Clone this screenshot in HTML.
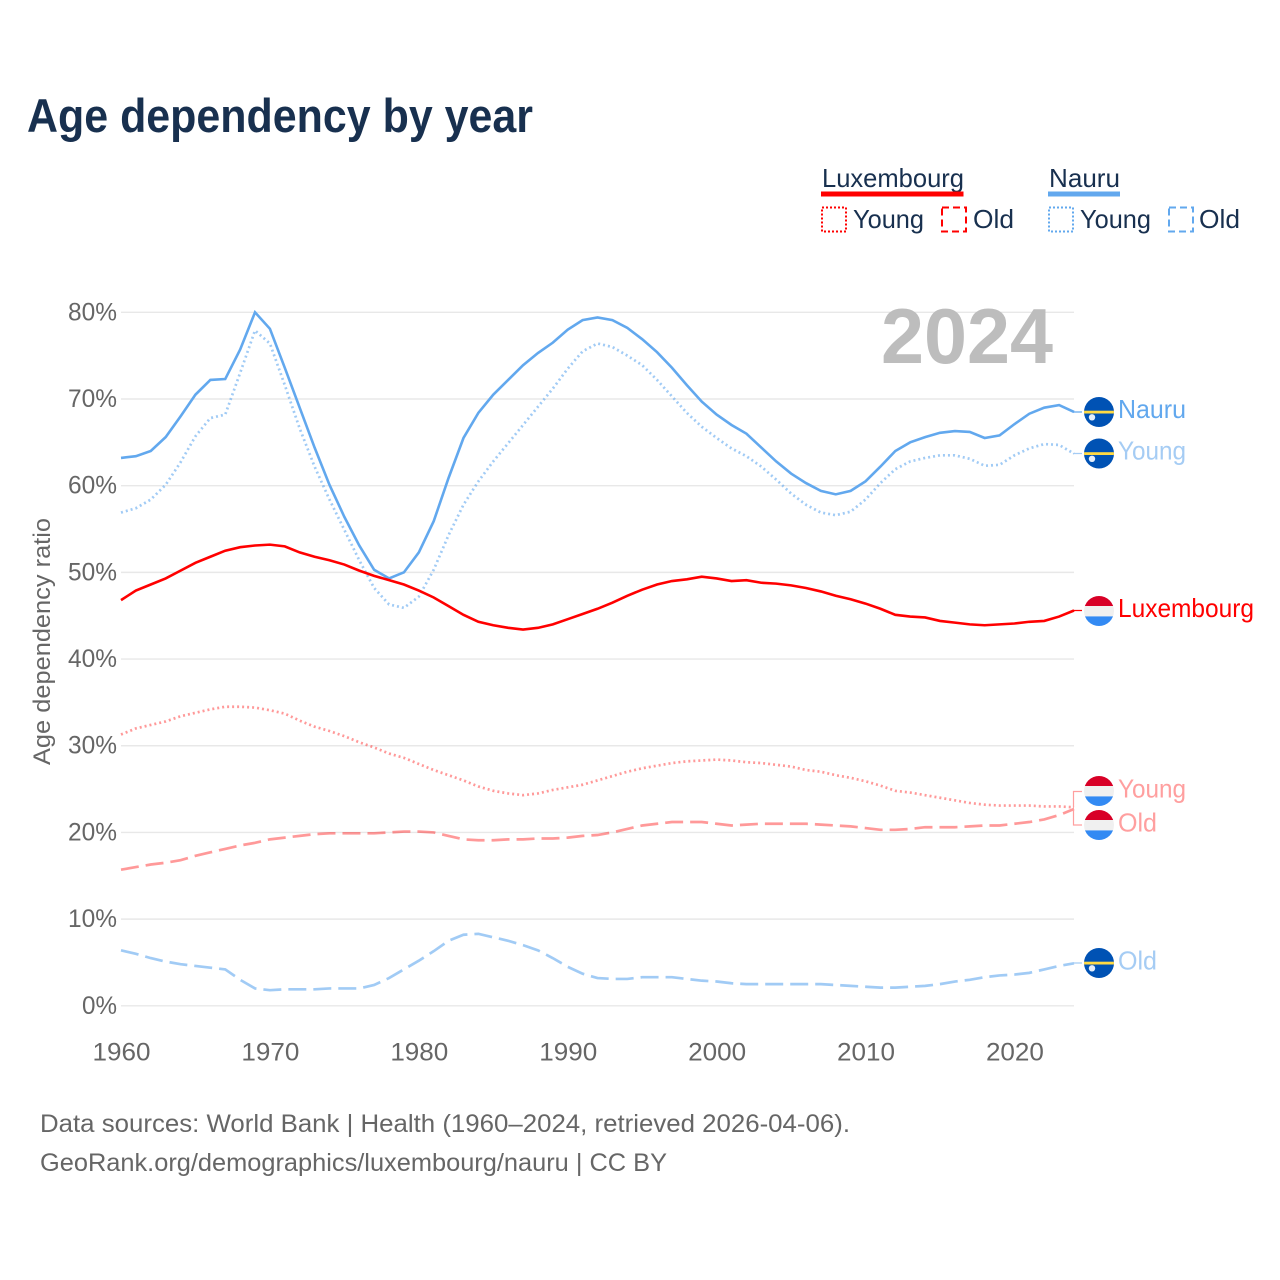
<!DOCTYPE html>
<html lang="en">
<head>
<meta charset="utf-8">
<title>Age dependency by year</title>
<style>
html,body{margin:0;padding:0;background:#fff;}
svg{display:block;font-family:"Liberation Sans",sans-serif;}
</style>
</head>
<body>
<svg id="chart" xmlns="http://www.w3.org/2000/svg" width="1280" height="1280" viewBox="0 0 1280 1280">
  <defs>
    <clipPath id="flag-clip"><circle cx="0" cy="0" r="15"/></clipPath>
    <g id="flag-lux" clip-path="url(#flag-clip)">
      <rect x="-16" y="-16" width="32" height="11" fill="#d80027"/>
      <rect x="-16" y="-5" width="32" height="10.4" fill="#f0f0f0"/>
      <rect x="-16" y="5.4" width="32" height="11" fill="#338af3"/>
    </g>
    <g id="flag-nauru" clip-path="url(#flag-clip)">
      <rect x="-16" y="-16" width="32" height="32" fill="#0052b4"/>
      <rect x="-16" y="-1.3" width="32" height="2.8" fill="#ffda44"/>
      <circle cx="-7" cy="5.3" r="3.2" fill="#e4eefa"/>
    </g>
  </defs>

  <rect x="0" y="0" width="1280" height="1280" fill="#ffffff"/>

  <text x="27" y="132" font-size="47" font-weight="700" fill="#18304f" textLength="506" lengthAdjust="spacingAndGlyphs">Age dependency by year</text>

  <g font-size="26" fill="#18304f">
    <g>
      <text x="822" y="187" textLength="142" lengthAdjust="spacingAndGlyphs">Luxembourg</text>
      <rect x="821" y="191.5" width="142.5" height="5" fill="#ff0000"/>
      <rect x="822" y="207.5" width="24" height="24" fill="none" stroke="#ff0000" stroke-width="2" stroke-dasharray="2 2"/>
      <text x="853" y="228" textLength="71" lengthAdjust="spacingAndGlyphs">Young</text>
      <rect x="942" y="207.5" width="24" height="24" fill="none" stroke="#ff0000" stroke-width="2" stroke-dasharray="7 4"/>
      <text x="973" y="228" textLength="41" lengthAdjust="spacingAndGlyphs">Old</text>
    </g>
    <g>
      <text x="1049" y="187" textLength="71" lengthAdjust="spacingAndGlyphs">Nauru</text>
      <rect x="1048" y="191.5" width="72" height="5" fill="#62a8ee"/>
      <rect x="1049" y="207.5" width="24" height="24" fill="none" stroke="#62a8ee" stroke-width="2" stroke-dasharray="2 2"/>
      <text x="1080" y="228" textLength="71" lengthAdjust="spacingAndGlyphs">Young</text>
      <rect x="1169" y="207.5" width="24" height="24" fill="none" stroke="#62a8ee" stroke-width="2" stroke-dasharray="7 4"/>
      <text x="1199" y="228" textLength="41" lengthAdjust="spacingAndGlyphs">Old</text>
    </g>
  </g>

  <g id="grid"></g>
  <g id="y-axis"></g>
  <g id="x-axis"></g>

  <text transform="translate(50,765) rotate(-90)" x="0" y="0" font-size="24.5" fill="#666666" textLength="247" lengthAdjust="spacingAndGlyphs">Age dependency ratio</text>

  <text x="881" y="363" font-size="78" font-weight="700" fill="#bdbdbd" textLength="172" lengthAdjust="spacingAndGlyphs">2024</text>

  <g id="series"></g>
  <g id="leaders"></g>

  <g font-size="26">
    <use href="#flag-nauru" x="1099" y="412"/>
    <text x="1118" y="418" fill="#62a8ee" textLength="68" lengthAdjust="spacingAndGlyphs">Nauru</text>
    <use href="#flag-nauru" x="1099" y="453.5"/>
    <text x="1118" y="459.5" fill="#a5ccf4" textLength="68" lengthAdjust="spacingAndGlyphs">Young</text>
    <use href="#flag-lux" x="1099" y="611"/>
    <text x="1118" y="617" fill="#ff0000" textLength="136" lengthAdjust="spacingAndGlyphs">Luxembourg</text>
    <use href="#flag-lux" x="1099" y="791"/>
    <text x="1118" y="797.5" fill="#ff9f9f" textLength="68" lengthAdjust="spacingAndGlyphs">Young</text>
    <use href="#flag-lux" x="1099" y="825"/>
    <text x="1118" y="831.5" fill="#ff9f9f" textLength="39" lengthAdjust="spacingAndGlyphs">Old</text>
    <use href="#flag-nauru" x="1099" y="963"/>
    <text x="1118" y="969.5" fill="#a5ccf4" textLength="39" lengthAdjust="spacingAndGlyphs">Old</text>
  </g>

  <g font-size="25" fill="#666666">
    <text x="40" y="1132" textLength="810" lengthAdjust="spacingAndGlyphs">Data sources: World Bank | Health (1960–2024, retrieved 2026-04-06).</text>
    <text x="40" y="1171" textLength="627" lengthAdjust="spacingAndGlyphs">GeoRank.org/demographics/luxembourg/nauru | CC BY</text>
  </g>
</svg>

<script>
const startYear = 1960;
const endYear = 2024;
const yTicks = [0, 10, 20, 30, 40, 50, 60, 70, 80];
const xTicks = [1960, 1970, 1980, 1990, 2000, 2010, 2020];

const nauruTotal = [63.2,63.4,64.0,65.6,68.0,70.5,72.2,72.3,75.7,80.0,78.1,73.6,69.0,64.4,60.1,56.4,53.1,50.3,49.3,50.0,52.3,55.9,60.9,65.5,68.4,70.5,72.2,73.9,75.3,76.5,78.0,79.1,79.4,79.1,78.2,76.9,75.4,73.6,71.6,69.7,68.2,67.0,66.0,64.4,62.8,61.4,60.3,59.4,59.0,59.4,60.5,62.2,64.0,65.0,65.6,66.1,66.3,66.2,65.5,65.8,67.1,68.3,69.0,69.3,68.5];
const nauruYoung = [56.9,57.4,58.4,60.1,62.7,65.7,67.8,68.2,73.0,77.9,76.4,71.6,66.6,62.2,58.4,54.9,51.4,48.2,46.3,45.9,47.2,50.3,54.3,57.8,60.5,62.8,64.9,67.0,69.1,71.2,73.5,75.5,76.4,76.0,75.0,73.9,72.2,70.3,68.4,66.8,65.5,64.3,63.4,62.2,60.7,59.1,57.8,56.9,56.6,57.0,58.4,60.3,61.9,62.8,63.2,63.5,63.5,63.1,62.3,62.4,63.5,64.3,64.8,64.7,63.7];
const nauruOld = [6.4,6.0,5.5,5.1,4.8,4.6,4.4,4.2,3.0,2.0,1.8,1.9,1.9,1.9,2.0,2.0,2.0,2.4,3.2,4.2,5.2,6.3,7.5,8.2,8.3,7.9,7.5,7.0,6.4,5.5,4.5,3.7,3.2,3.1,3.1,3.3,3.3,3.3,3.1,2.9,2.8,2.6,2.5,2.5,2.5,2.5,2.5,2.5,2.4,2.3,2.2,2.1,2.1,2.2,2.3,2.5,2.8,3.0,3.3,3.5,3.6,3.8,4.2,4.6,4.9];
const luxTotal = [46.8,47.9,48.6,49.3,50.2,51.1,51.8,52.5,52.9,53.1,53.2,53.0,52.3,51.8,51.4,50.9,50.2,49.6,49.1,48.6,47.9,47.1,46.1,45.1,44.3,43.9,43.6,43.4,43.6,44.0,44.6,45.2,45.8,46.5,47.3,48.0,48.6,49.0,49.2,49.5,49.3,49.0,49.1,48.8,48.7,48.5,48.2,47.8,47.3,46.9,46.4,45.8,45.1,44.9,44.8,44.4,44.2,44.0,43.9,44.0,44.1,44.3,44.4,44.9,45.6];
const luxYoung = [31.3,32.0,32.4,32.8,33.4,33.8,34.2,34.5,34.5,34.4,34.1,33.7,32.9,32.2,31.7,31.1,30.4,29.8,29.1,28.6,27.9,27.2,26.6,26.0,25.3,24.8,24.5,24.3,24.5,24.9,25.2,25.5,26.0,26.5,27.0,27.4,27.7,28.0,28.2,28.3,28.4,28.3,28.1,28.0,27.8,27.6,27.2,27.0,26.6,26.3,25.9,25.4,24.8,24.6,24.3,24.0,23.7,23.4,23.2,23.1,23.1,23.1,23.0,23.0,22.9];
const luxOld = [15.7,16.0,16.3,16.5,16.8,17.3,17.7,18.1,18.5,18.8,19.2,19.4,19.6,19.8,19.9,19.9,19.9,19.9,20.0,20.1,20.1,20.0,19.6,19.2,19.1,19.1,19.2,19.2,19.3,19.3,19.4,19.6,19.7,20.0,20.4,20.8,21.0,21.2,21.2,21.2,21.0,20.8,20.9,21.0,21.0,21.0,21.0,20.9,20.8,20.7,20.5,20.3,20.3,20.4,20.6,20.6,20.6,20.7,20.8,20.8,21.0,21.2,21.5,22.0,22.7];

const NS = 'http://www.w3.org/2000/svg';
const plotLeft = 121, plotRight = 1074, plotBottom = 1005.8, plotTop = 312.3;
function xScale(year) {
  return plotLeft + (year - startYear) * (plotRight - plotLeft) / (endYear - startYear);
}
function yScale(value) {
  return plotBottom + value * (plotTop - plotBottom) / 80;
}
function make(tag, parentId, attrs, text) {
  const el = document.createElementNS(NS, tag);
  for (const k in attrs) el.setAttribute(k, attrs[k]);
  if (text !== undefined) el.textContent = text;
  document.getElementById(parentId).appendChild(el);
  return el;
}
function linePath(values) {
  return values.map(function (v, i) {
    return (i ? 'L' : 'M') + xScale(startYear + i).toFixed(2) + ' ' + yScale(v).toFixed(2);
  }).join(' ');
}

yTicks.forEach(function (t) {
  const g = make('line', 'grid', {x1: plotLeft, x2: plotRight, y1: yScale(t), y2: yScale(t), stroke: '#e8e8e8', 'stroke-width': 1.4});
  
  
  const label = make('text', 'y-axis', {x: 117, y: yScale(t) + 8, 'text-anchor': 'end', 'font-size': 25, fill: '#666666', textLength: t === 0 ? 35 : 49, lengthAdjust: 'spacingAndGlyphs'}, t + '%');
  
  
});

xTicks.forEach(function (t) {
  const label = make('text', 'x-axis', {x: xScale(t) + 0.5, y: 1060.5, 'text-anchor': 'middle', 'font-size': 25, fill: '#666666', textLength: 58, lengthAdjust: 'spacingAndGlyphs'}, String(t));
  
  
});

const nauruYoungPath = make('path', 'series', {d: linePath(nauruYoung), fill: 'none', stroke: '#62a8ee', 'stroke-opacity': 0.6, 'stroke-width': 2.7, 'stroke-dasharray': '2 3'});


const nauruOldPath = make('path', 'series', {d: linePath(nauruOld), fill: 'none', stroke: '#62a8ee', 'stroke-opacity': 0.6, 'stroke-width': 2.7, 'stroke-dasharray': '18 7'});


const nauruTotalPath = make('path', 'series', {d: linePath(nauruTotal), fill: 'none', stroke: '#62a8ee', 'stroke-width': 2.6});


const luxYoungPath = make('path', 'series', {d: linePath(luxYoung), fill: 'none', stroke: '#ff0000', 'stroke-opacity': 0.4, 'stroke-width': 2.7, 'stroke-dasharray': '2 3'});


const luxOldPath = make('path', 'series', {d: linePath(luxOld), fill: 'none', stroke: '#ff0000', 'stroke-opacity': 0.4, 'stroke-width': 2.7, 'stroke-dasharray': '18 7'});


const luxTotalPath = make('path', 'series', {d: linePath(luxTotal), fill: 'none', stroke: '#ff0000', 'stroke-width': 2.6});



function leader(values, labelY, color) {
  const y0 = yScale(values[values.length - 1]);
  const d = 'M' + plotRight + ' ' + y0.toFixed(2) + ' L' + (plotRight - 0.5) + ' ' + y0.toFixed(2) + ' L' + (plotRight - 0.5) + ' ' + labelY + ' L1082 ' + labelY;
  return make('path', 'leaders', {d: d, fill: 'none', stroke: color, 'stroke-width': 1.2});
}
const leaderNauru = leader(nauruTotal, 412, '#62a8ee');


const leaderNauruYoung = leader(nauruYoung, 453.5, '#a5ccf4');


const leaderNauruOld = leader(nauruOld, 963, '#a5ccf4');


const leaderLux = leader(luxTotal, 610.5, '#ff0000');


const leaderLuxYoung = leader(luxYoung, 791.5, '#ff9f9f');


const leaderLuxOld = leader(luxOld, 825, '#ff9f9f');


</script>
</body>
</html>
